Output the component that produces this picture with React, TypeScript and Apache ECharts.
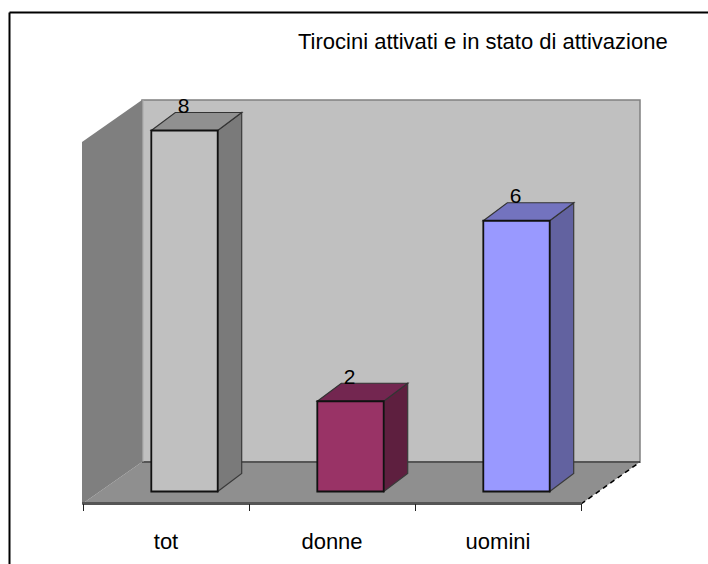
import React, { useEffect, useRef } from "react";
import * as echarts from "echarts";

const categories = ["tot", "donne", "uomini"];
const values = [8, 2, 6];
const frontColors = ["#C0C0C0", "#993366", "#9999FF"];
const topColors = ["#909090", "#732650", "#7373BF"];
const sideColors = ["#7A7A7A", "#5E1F3F", "#6262A0"];
const titleText = "Tirocini attivati e in stato di attivazione";

const FONT = "'Liberation Sans', Arial, sans-serif";
const DX = 24;
const DY = -18;
const SHIFT_X = 18.5;

function renderBar(params: any, api: any) {
  const i = params.dataIndex;
  const base = api.coord([i, 0]);
  const top = api.coord([i, api.value(1)]);
  const w = api.size([1, 0])[0] * 0.4;
  const l = base[0] + SHIFT_X - w / 2;
  const r = l + w;
  const t = top[1];
  const b = base[1];
  return {
    type: "group",
    children: [
      {
        type: "polygon",
        shape: { points: [[r, t], [r + DX, t + DY], [r + DX, b + DY], [r, b]] },
        style: { fill: sideColors[i], stroke: "#3a3a3a", lineWidth: 1.2 },
      },
      {
        type: "polygon",
        shape: { points: [[l, t], [l + DX, t + DY], [r + DX, t + DY], [r, t]] },
        style: { fill: topColors[i], stroke: "#333", lineWidth: 1.2 },
      },
      {
        type: "polygon",
        shape: { points: [[l, t], [r, t], [r, b], [l, b]] },
        style: { fill: frontColors[i], stroke: "#111", lineWidth: 1.8 },
      },
      {
        type: "text",
        style: {
          text: String(api.value(1)),
          x: (l + r) / 2 - 1,
          y: t - 25,
          fill: "#000",
          font: `21px ${FONT}`,
          align: "center",
          verticalAlign: "middle",
        },
      },
    ],
  };
}

export default function App() {
  const ref = useRef<HTMLDivElement>(null);
  useEffect(() => {
    const chart = echarts.init(ref.current!, undefined, { renderer: "svg" });
    chart.setOption({
      animation: false,
      backgroundColor: "#fff",
      title: {
        text: titleText,
        left: 298,
        top: 30,
        padding: 0,
        textStyle: { fontFamily: FONT, fontSize: 22, fontWeight: "normal", color: "#000" },
      },
      grid: { left: 83, width: 498, top: 130.5, height: 361 },
      xAxis: {
        type: "category",
        data: categories,
        offset: 12.5,
        axisLine: { onZero: false, lineStyle: { color: "#555", width: 2 } },
        axisTick: { show: true, alignWithLabel: false, length: 7, lineStyle: { color: "#222", width: 1 } },
        axisLabel: { fontFamily: FONT, fontSize: 22, color: "#000", margin: 26 },
      },
      yAxis: { type: "value", min: 0, max: 8, interval: 2, show: false },
      graphic: [
        { type: "polygon", z: -5, shape: { points: [[142, 100], [640, 100], [640, 462], [142, 462]] }, style: { fill: "#C0C0C0", stroke: "#808080", lineWidth: 1.5 } },
        { type: "polygon", z: -4, shape: { points: [[82, 504], [142, 462], [640, 462], [581, 504]] }, style: { fill: "#8F8F8F" } },
        { type: "polygon", z: -3, shape: { points: [[82, 142], [142, 100], [142, 462], [82, 504]] }, style: { fill: "#7F7F7F" } },
        { type: "line", z: -2, shape: { x1: 142, y1: 462, x2: 640, y2: 462 }, style: { stroke: "#555", lineWidth: 2 } },
        { type: "line", z: -2, shape: { x1: 143, y1: 100, x2: 143, y2: 462 }, style: { stroke: "#A8A8A8", lineWidth: 1 } },
        { type: "line", z: -2, shape: { x1: 82, y1: 503, x2: 581, y2: 503 }, style: { stroke: "#555", lineWidth: 2 } },
        { type: "line", z: -2, shape: { x1: 581, y1: 504, x2: 640, y2: 462 }, style: { stroke: "#000", lineWidth: 1.5, lineDash: [5, 4] } },
        { type: "line", z: -2, shape: { x1: 9.5, y1: 12.5, x2: 708, y2: 12.5 }, style: { stroke: "#000", lineWidth: 2 } },
        { type: "line", z: -2, shape: { x1: 9.5, y1: 12.5, x2: 9.5, y2: 564 }, style: { stroke: "#000", lineWidth: 2 } },
      ],
      series: [
        {
          type: "custom",
          coordinateSystem: "cartesian2d",
          clip: false,
          renderItem: renderBar,
          encode: { x: 0, y: 1 },
          data: values.map((v, i) => [i, v]),
        },
      ],
    });
    return () => chart.dispose();
  }, []);
  return <div ref={ref} style={{ position: "fixed", left: 0, top: 0, width: 708, height: 564 }} />;
}
